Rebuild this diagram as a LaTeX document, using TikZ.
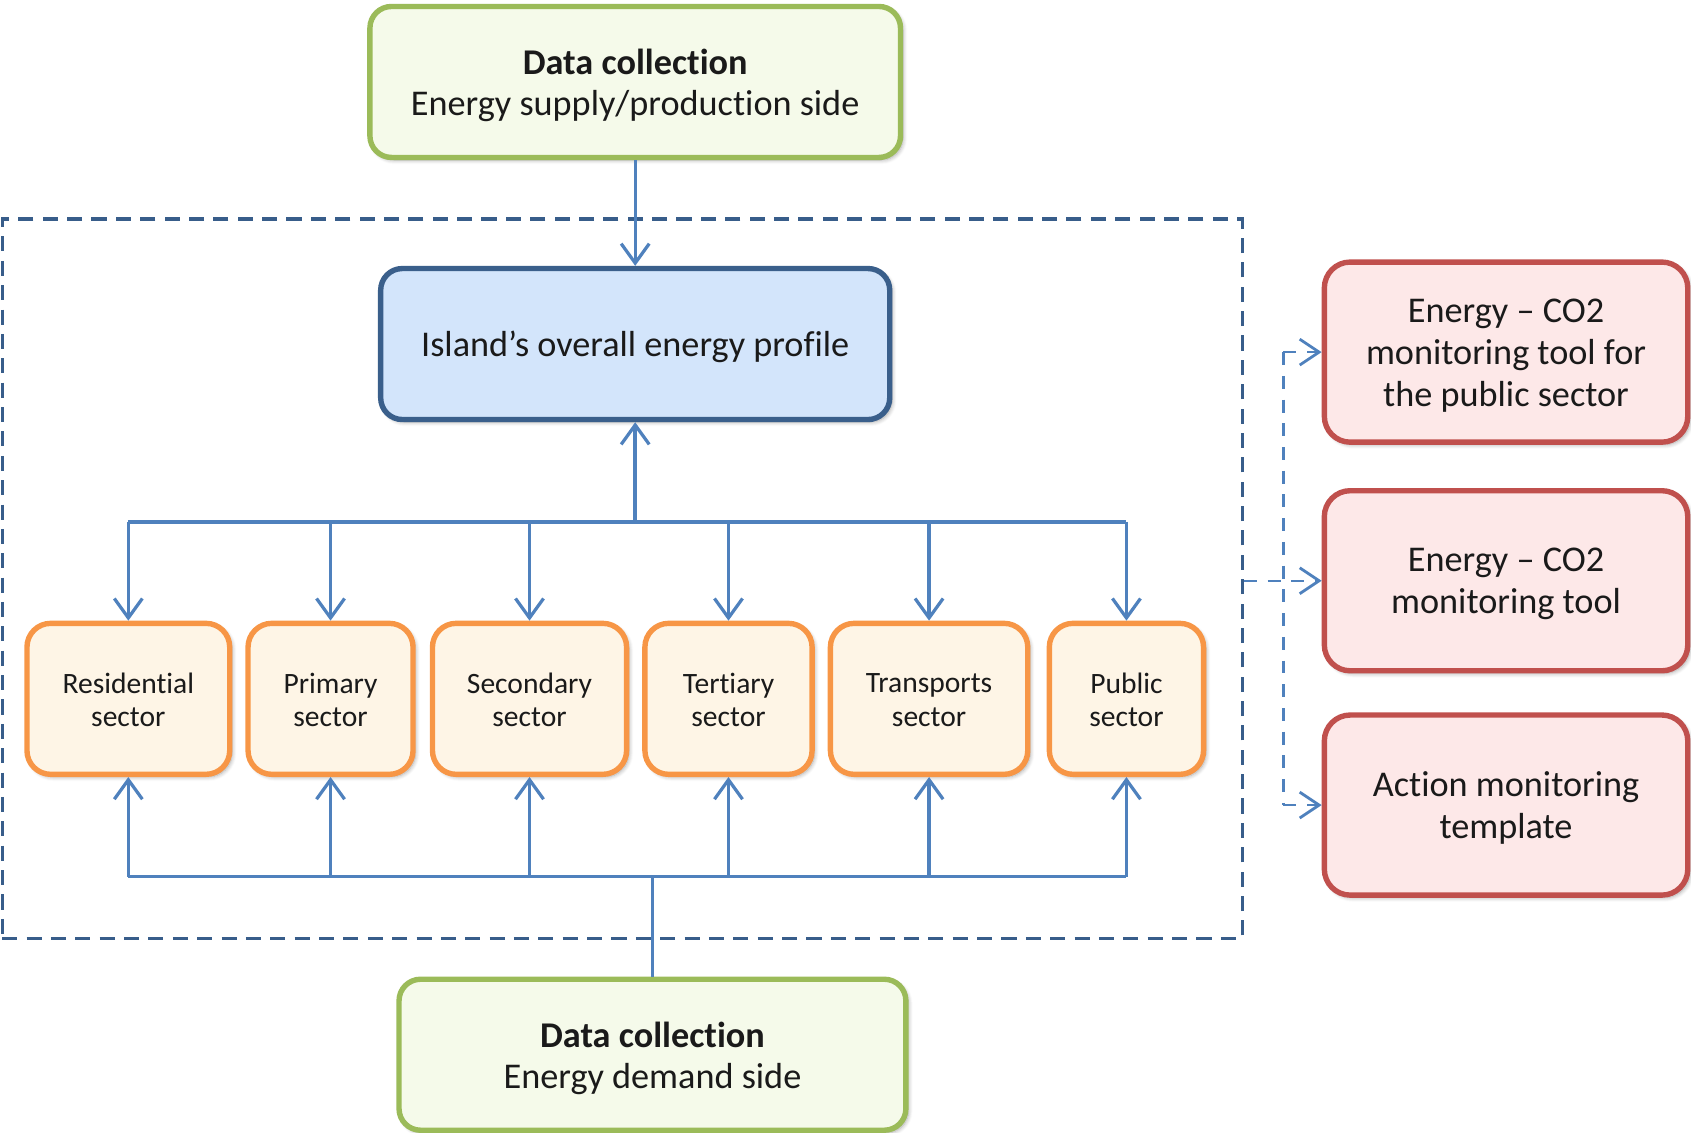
\documentclass[tikz,border=0pt]{standalone}
\usepackage{fontspec}
\setmainfont{Carlito}[Ligatures=CommonOff]
\usetikzlibrary{arrows.meta,shadows.blur}
\definecolor{grnB}{HTML}{9BBB59}
\definecolor{grnF}{HTML}{F5FAEA}
\definecolor{bluB}{HTML}{3A5F8B}
\definecolor{bluF}{HTML}{D3E5FB}
\definecolor{orgB}{HTML}{F79646}
\definecolor{orgF}{HTML}{FEF5E6}
\definecolor{redB}{HTML}{C0504D}
\definecolor{redF}{HTML}{FDE8E8}
\definecolor{lnk}{HTML}{4F81BD}
\definecolor{frm}{HTML}{385D8A}
\definecolor{txt}{HTML}{1A1A1A}
% box shape node + its text node (text set slightly below the centre)
\newcommand\boxnode[5]{%
  \node[#1, #2] (#3) at (#4) {};
  \node[#1 text] (#3t) at (#3.center) {#5};}
\begin{document}
\begin{tikzpicture}[x=0.5pt,y=-0.5pt,
  box/.style={rounded corners=10pt, line width=2.5pt, inner sep=0pt,
    blur shadow={shadow blur steps=6, shadow xshift=1.2pt, shadow yshift=-1.2pt, shadow opacity=35}},
  boxtext/.style={align=center, inner sep=0pt, text=txt, yshift=-1.5pt},
  greenbox/.style={box, draw=grnB, fill=grnF, minimum height=70pt},
  greenbox text/.style={boxtext, font=\fontsize{16.8}{19}\selectfont},
  bluebox/.style={box, draw=bluB, fill=bluF, minimum width=236pt, minimum height=70pt},
  bluebox text/.style={boxtext, font=\fontsize{16.8}{19}\selectfont},
  secbox/.style={box, rounded corners=11pt, draw=orgB, fill=orgF, minimum height=70pt},
  secbox text/.style={boxtext, yshift=1pt, font=\fontsize{13.7}{15.5}\selectfont},
  redbox/.style={box, rounded corners=12pt, draw=redB, fill=redF, minimum width=168.5pt, minimum height=83.5pt},
  redbox text/.style={boxtext, font=\fontsize{16.8}{19.5}\selectfont},
  link/.style={draw=lnk, line width=1.5pt},
  arr/.style={link, -{Straight Barb[length=9pt,width=13pt,line width=1.5pt]}},
  dlink/.style={draw=lnk, line width=1.1pt, dash pattern=on 6pt off 5pt},
  darr/.style={dlink, -{Straight Barb[length=9pt,width=12pt,line width=1.3pt]}}
]
\useasboundingbox (0,0) rectangle (1568,1050);

% dashed frame
\node[draw=frm, line width=1.5pt, dash pattern=on 7pt off 4.3pt, minimum width=575pt, minimum height=333.5pt, inner sep=0pt] (frame) at (577,536.5) {};

% boxes
\boxnode{greenbox}{minimum width=246pt}{top}{589,76}{\textbf{Data collection}\\Energy supply/production side}
\boxnode{bluebox}{}{prof}{589,319}{Island’s overall energy profile}
\boxnode{greenbox}{minimum width=235pt}{bot}{605,978}{\textbf{Data collection}\\Energy demand side}

\boxnode{secbox}{minimum width=94pt}{s1}{119,648}{Residential\\sector}
\boxnode{secbox}{minimum width=76.5pt}{s2}{306.5,648}{Primary\\sector}
\boxnode{secbox}{minimum width=90pt}{s3}{491,648}{Secondary\\sector}
\boxnode{secbox}{minimum width=77.5pt}{s4}{675.5,648}{Tertiary\\sector}
\boxnode{secbox}{minimum width=91.5pt}{s5}{861.5,648}{Transports\\sector}
\boxnode{secbox}{minimum width=71.5pt}{s6}{1044.5,648}{Public\\sector}

\boxnode{redbox}{}{r1}{1396.5,326.5}{Energy -- CO2\\monitoring tool for\\the public sector}
\boxnode{redbox}{}{r2}{1396.5,538.5}{Energy -- CO2\\monitoring tool}
\boxnode{redbox}{}{r3}{1396.5,746.5}{Action monitoring\\template}

% top connections
\draw[arr] (top.south) -- (prof.north);
\coordinate (busT) at (589,484);
\coordinate (busB) at (605,813);
\draw[arr, line width=2pt] (busT) -- (prof.south);
\draw[link] (s1.north |- busT) -- (s6.north |- busT);
\foreach \s in {s1,s2,s3,s4,s5,s6}{
  \draw[arr] (\s.north |- busT) -- (\s.north);
  \draw[arr] (\s.south |- busB) -- (\s.south);
}
\draw[link] (s1.south |- busB) -- (s6.south |- busB);
\draw[link] (bot.north) -- (busB);

% right dashed connectors
\coordinate (vx) at (1190,0);
\draw[darr] (frame.east |- r2.west) -- (r2.west);
\draw[dlink] (vx |- r1.west) -- (vx |- r3.west);
\draw[darr] (vx |- r1.west) -- (r1.west);
\draw[darr] (vx |- r3.west) -- (r3.west);
\end{tikzpicture}
\end{document}
